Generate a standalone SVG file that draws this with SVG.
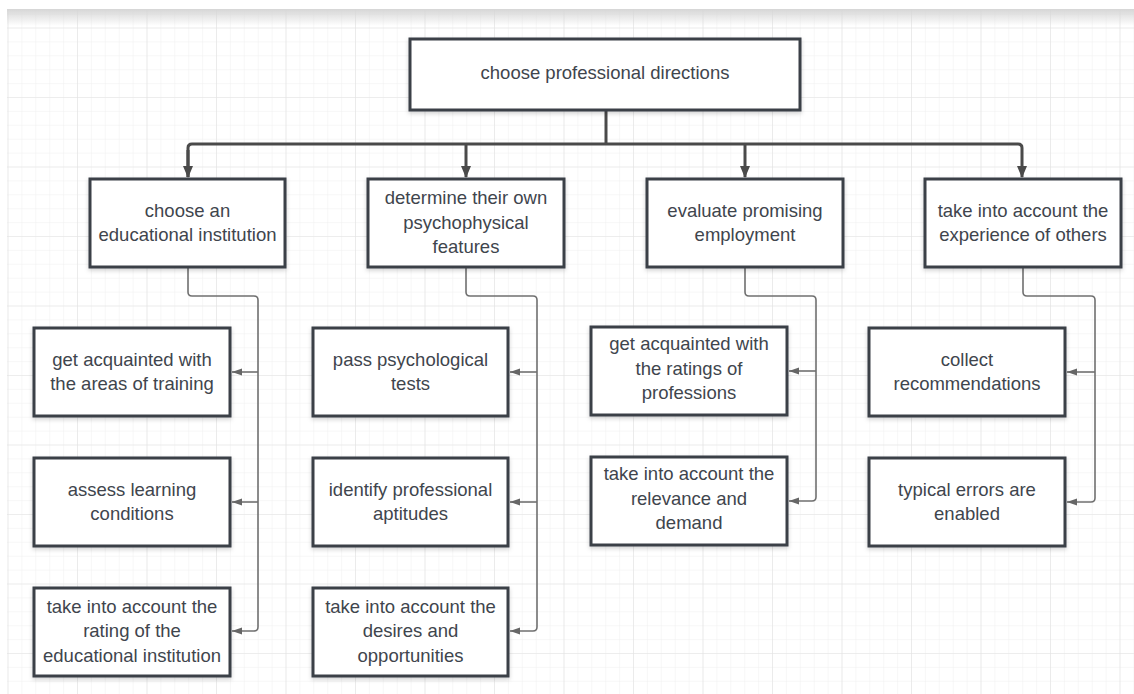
<svg xmlns="http://www.w3.org/2000/svg" width="1134" height="694" viewBox="0 0 1134 694">
<style>
.box{fill:#fff;stroke:#3a3f47;stroke-width:3;filter:url(#sh)}
.t{font-family:"Liberation Sans",Arial,sans-serif;font-size:18.5px;fill:#40454d;text-anchor:middle}
.main{fill:none;stroke:#4a4a4a;stroke-width:3}
.sub{fill:none;stroke:#707070;stroke-width:1.6}
</style>
<defs>
<pattern id="minor" x="7.5" y="27.5" width="13.9" height="13.9" patternUnits="userSpaceOnUse">
<path d="M0 0V13.9M0 0H13.9" stroke="#efefef" stroke-width="1" fill="none"/>
</pattern>
<pattern id="major" x="7.5" y="27.5" width="69.5" height="69.5" patternUnits="userSpaceOnUse">
<path d="M0 0V69.5M0 0H69.5" stroke="#e3e3e3" stroke-width="1.2" fill="none"/>
</pattern>
<linearGradient id="topsh" x1="0" y1="0" x2="0" y2="1">
<stop offset="0" stop-color="#d6d6d6"/>
<stop offset="1" stop-color="#d6d6d6" stop-opacity="0"/>
</linearGradient>
<filter id="sh" x="-10%" y="-10%" width="120%" height="130%">
<feDropShadow dx="0" dy="2" stdDeviation="2" flood-color="#000" flood-opacity="0.18"/>
</filter>
<marker id="ah" viewBox="0 0 12 12" refX="11" refY="6" markerWidth="12" markerHeight="12" markerUnits="userSpaceOnUse" orient="auto">
<path d="M0 1L12 6L0 11Z" fill="#4a4a4a"/>
</marker>
<marker id="as" viewBox="0 0 10 8" refX="10" refY="4" markerWidth="10" markerHeight="8" markerUnits="userSpaceOnUse" orient="auto">
<path d="M0 0.5L10 4L0 7.5Z" fill="#666"/>
</marker>
</defs>
<rect width="1134" height="694" fill="#fff"/>
<rect x="7" y="9" width="1127" height="685" fill="#fff"/>
<rect x="7" y="9" width="1127" height="685" fill="url(#minor)"/>
<rect x="7" y="9" width="1127" height="685" fill="url(#major)"/>
<rect x="7" y="9" width="1127" height="17" fill="url(#topsh)"/>

<g id="connectors">
<path class="main" d="M606 110V144"/>
<path class="main" d="M188 177V148Q188 144 192 144H1018Q1022 144 1022 148V177" marker-end="url(#ah)"/>
<path class="main" d="M188 150V177" marker-end="url(#ah)"/>
<path class="main" d="M466 144V177" marker-end="url(#ah)"/>
<path class="main" d="M745 144V177" marker-end="url(#ah)"/>

<path class="sub" d="M188 268V292Q188 296 192 296H254Q258 296 258 300V627Q258 631 254 631H232" marker-end="url(#as)"/>
<path class="sub" d="M258 372H232" marker-end="url(#as)"/>
<path class="sub" d="M258 502H232" marker-end="url(#as)"/>

<path class="sub" d="M466 268V292Q466 296 470 296H533Q537 296 537 300V627Q537 631 533 631H510" marker-end="url(#as)"/>
<path class="sub" d="M537 372H510" marker-end="url(#as)"/>
<path class="sub" d="M537 502H510" marker-end="url(#as)"/>

<path class="sub" d="M745 268V292Q745 296 749 296H812Q816 296 816 300V497Q816 501 812 501H789" marker-end="url(#as)"/>
<path class="sub" d="M816 371H789" marker-end="url(#as)"/>

<path class="sub" d="M1023 268V292Q1023 296 1027 296H1091Q1095 296 1095 300V498Q1095 502 1091 502H1067" marker-end="url(#as)"/>
<path class="sub" d="M1095 372H1067" marker-end="url(#as)"/>
</g>

<g id="root"><rect class="box" x="410" y="39" width="390" height="71"/>
<text class="t" x="605" y="78.5">choose professional directions</text></g>

<g id="n1"><rect class="box" x="90" y="179" width="195" height="88"/>
<text class="t" x="187.5" y="216.5">choose an</text><text class="t" x="187.5" y="240.5">educational institution</text></g>
<g id="n2"><rect class="box" x="368" y="179" width="196" height="88"/>
<text class="t" x="466" y="204">determine their own</text><text class="t" x="466" y="228.5">psychophysical</text><text class="t" x="466" y="253">features</text></g>
<g id="n3"><rect class="box" x="647" y="179" width="196" height="88"/>
<text class="t" x="745" y="216.5">evaluate promising</text><text class="t" x="745" y="240.5">employment</text></g>
<g id="n4"><rect class="box" x="925" y="179" width="196" height="88"/>
<text class="t" x="1023" y="216.5">take into account the</text><text class="t" x="1023" y="240.5">experience of others</text></g>

<g id="n1a"><rect class="box" x="34" y="328" width="196" height="88"/>
<text class="t" x="132" y="365.5">get acquainted with</text><text class="t" x="132" y="389.5">the areas of training</text></g>
<g id="n1b"><rect class="box" x="34" y="458" width="196" height="88"/>
<text class="t" x="132" y="495.5">assess learning</text><text class="t" x="132" y="519.5">conditions</text></g>
<g id="n1c"><rect class="box" x="34" y="588" width="196" height="88"/>
<text class="t" x="132" y="612.5">take into account the</text><text class="t" x="132" y="637">rating of the</text><text class="t" x="132" y="661.5">educational institution</text></g>

<g id="n2a"><rect class="box" x="313" y="328" width="195" height="88"/>
<text class="t" x="410.5" y="365.5">pass psychological</text><text class="t" x="410.5" y="389.5">tests</text></g>
<g id="n2b"><rect class="box" x="313" y="458" width="195" height="88"/>
<text class="t" x="410.5" y="495.5">identify professional</text><text class="t" x="410.5" y="519.5">aptitudes</text></g>
<g id="n2c"><rect class="box" x="313" y="588" width="195" height="88"/>
<text class="t" x="410.5" y="612.5">take into account the</text><text class="t" x="410.5" y="637">desires and</text><text class="t" x="410.5" y="661.5">opportunities</text></g>

<g id="n3a"><rect class="box" x="591" y="327" width="196" height="88"/>
<text class="t" x="689" y="349.5">get acquainted with</text><text class="t" x="689" y="374.5">the ratings of</text><text class="t" x="689" y="399">professions</text></g>
<g id="n3b"><rect class="box" x="591" y="457" width="196" height="88"/>
<text class="t" x="689" y="480">take into account the</text><text class="t" x="689" y="504.5">relevance and</text><text class="t" x="689" y="529">demand</text></g>

<g id="n4a"><rect class="box" x="869" y="328" width="196" height="88"/>
<text class="t" x="967" y="365.5">collect</text><text class="t" x="967" y="389.5">recommendations</text></g>
<g id="n4b"><rect class="box" x="869" y="458" width="196" height="88"/>
<text class="t" x="967" y="495.5">typical errors are</text><text class="t" x="967" y="519.5">enabled</text></g>
</svg>
